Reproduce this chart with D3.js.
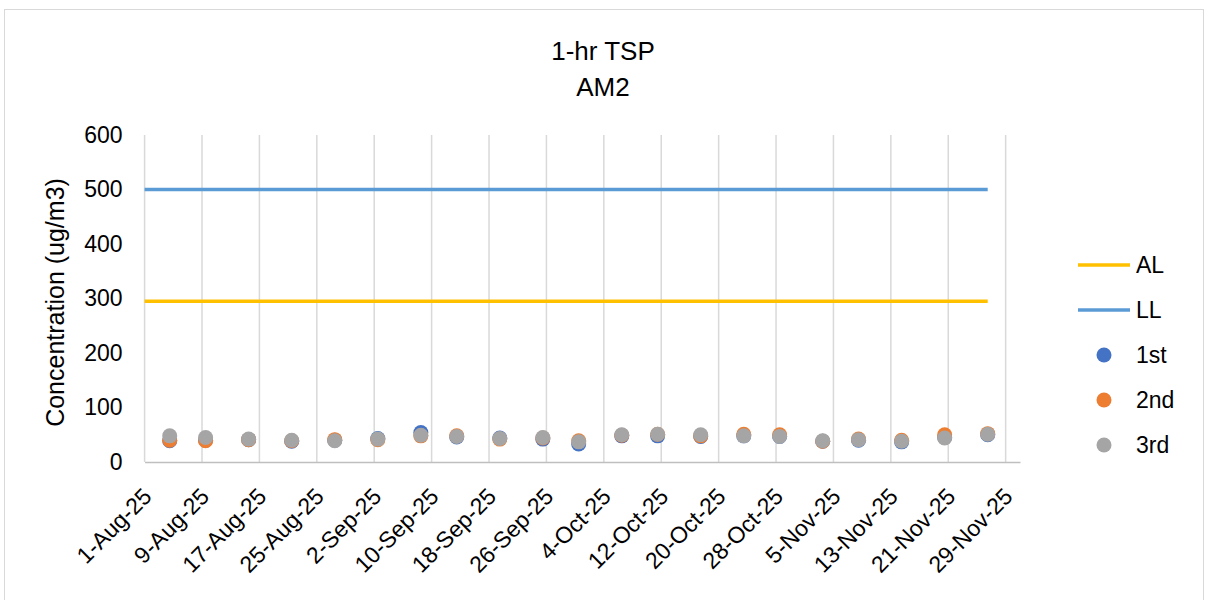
<!DOCTYPE html>
<html>
<head>
<meta charset="utf-8">
<script src="https://cdn.jsdelivr.net/npm/d3@7"></script>
<style>
  body { margin: 0; background: #fff; }
  svg text { font-family: "Liberation Sans", Arial, sans-serif; fill: #000; }
</style>
</head>
<body>
<svg id="chart" width="1208" height="600"></svg>
<script>
// sample dates and the three hourly readings
const sampleDates = ['2025-08-04T12:00', '2025-08-09T12:00', '2025-08-15T12:00', '2025-08-21T12:00',
    '2025-08-27T12:00', '2025-09-02T12:00', '2025-09-08T12:00', '2025-09-13T12:00', '2025-09-19T12:00',
    '2025-09-25T12:00', '2025-09-30T12:00', '2025-10-06T12:00', '2025-10-11T12:00', '2025-10-17T12:00',
    '2025-10-23T12:00', '2025-10-28T12:00', '2025-11-03T12:00', '2025-11-08T12:00', '2025-11-14T12:00',
    '2025-11-20T12:00', '2025-11-26T12:00'];
const first = [39, 40, 41, 38, 40, 43, 54, 46, 44, 42, 33, 48, 48, 47, 48, 47, 38, 40, 37, 45, 50];
const second = [40, 39, 41, 39, 41, 41, 48, 48, 42, 44, 39, 49, 51, 48, 51, 50, 38, 42, 40, 50, 52];
const third = [48, 45, 42, 40, 39, 42, 49, 47, 43, 45, 37, 50, 51, 50, 48, 47, 39, 41, 38, 44, 51];

// limit levels
const actionLevel = 295;
const limitLevel = 500;
const limitDates = ['2025-08-01', '2025-11-26T12:00'];

const xTickStart = '2025-08-01';
const xTickStepDays = 8;
const xTickCount = 16;
const xDomain = ['2025-08-01', '2025-12-01'];
const yTicks = [0, 100, 200, 300, 400, 500, 600];

const titleLines = ['1-hr TSP', 'AM2'];
const yTitle = 'Concentration (ug/m3)';

const seriesInfo = [
    { name: '1st', values: first, color: '#4472C4' },
    { name: '2nd', values: second, color: '#ED7D31' },
    { name: '3rd', values: third, color: '#A5A5A5' }
];
const lineInfo = [
    { name: 'AL', value: actionLevel, color: '#FFC000' },
    { name: 'LL', value: limitLevel, color: '#5B9BD5' }
];

const svg = d3.select('#chart');
const parse = d3.isoParse;
const fmt = d3.timeFormat('%-d-%b-%y');

const plotLeft = 144.6, plotRight = 1020, plotTop = 135, plotBottom = 462;

const x = d3.scaleTime()
    .domain(xDomain.map(parse))
    .range([plotLeft, plotRight]);
const y = d3.scaleLinear()
    .domain([0, 600])
    .range([plotBottom, plotTop]);

// chart border
svg.append('rect')
    .attr('x', 4.5).attr('y', 9.5)
    .attr('width', 1199).attr('height', 600)
    .attr('fill', 'none')
    .attr('stroke', '#D9D9D9')
    .attr('stroke-width', 1);

// title
svg.append('text')
    .attr('x', 603)
    .attr('text-anchor', 'middle')
    .style('font-size', '26px')
    .selectAll('tspan')
    .data(titleLines)
    .join('tspan')
    .attr('x', 603)
    .attr('y', (d, i) => 60 + i * 36)
    .text(d => d);

// x ticks every 8 days
const start = parse(xTickStart);
const xTicks = d3.range(xTickCount).map(i => d3.timeDay.offset(start, i * xTickStepDays));

svg.append('g')
    .selectAll('line')
    .data(xTicks)
    .join('line')
    .attr('x1', d => x(d)).attr('x2', d => x(d))
    .attr('y1', plotTop).attr('y2', plotBottom)
    .attr('stroke', '#D9D9D9')
    .attr('stroke-width', 1.5);

const xAxis = svg.append('g')
    .attr('transform', `translate(0,${plotBottom})`)
    .call(d3.axisBottom(x).tickValues(xTicks).tickFormat(fmt).tickSize(0));
xAxis.select('.domain').attr('stroke', '#BFBFBF').attr('stroke-width', 1.5);
xAxis.selectAll('text')
    .style('font-size', '23px')
    .attr('text-anchor', 'end')
    .attr('dy', 0)
    .attr('y', 0)
    .attr('transform', 'translate(8,36) rotate(-45)');

// y axis labels only
const yAxis = svg.append('g')
    .attr('transform', `translate(${plotLeft},0)`)
    .call(d3.axisLeft(y).tickValues(yTicks).tickSize(0).tickPadding(22));
yAxis.select('.domain').remove();
yAxis.selectAll('text').style('font-size', '23px');

svg.append('text')
    .attr('transform', `translate(64,${(plotTop + plotBottom) / 2 + 4}) rotate(-90)`)
    .attr('text-anchor', 'middle')
    .style('font-size', '25px')
    .text(yTitle);

// limit lines
const line = d3.line().x(d => x(d.date)).y(d => y(d.value));
lineInfo.forEach(l => {
    svg.append('path')
        .datum(limitDates.map(dt => ({ date: parse(dt), value: l.value })))
        .attr('d', line)
        .attr('fill', 'none')
        .attr('stroke', l.color)
        .attr('stroke-width', 3.5);
});

// markers
seriesInfo.forEach(s => {
    svg.append('g')
        .selectAll('circle')
        .data(s.values.map((v, i) => ({ date: parse(sampleDates[i]), value: v })))
        .join('circle')
        .attr('cx', d => x(d.date))
        .attr('cy', d => y(d.value))
        .attr('r', 7.5)
        .attr('fill', s.color);
});

// legend
const legend = svg.append('g');
const legendItems = lineInfo.map(d => ({ ...d, type: 'line' }))
    .concat(seriesInfo.map(d => ({ ...d, type: 'dot' })));
legendItems.forEach((d, i) => {
    const ly = 265 + i * 45;
    if (d.type === 'line') {
        legend.append('line')
            .attr('x1', 1078).attr('x2', 1130)
            .attr('y1', ly).attr('y2', ly)
            .attr('stroke', d.color)
            .attr('stroke-width', 3.5);
    } else {
        legend.append('circle')
            .attr('cx', 1104).attr('cy', ly)
            .attr('r', 7.5)
            .attr('fill', d.color);
    }
    legend.append('text')
        .attr('x', 1136).attr('y', ly)
        .attr('dy', '0.35em')
        .style('font-size', '23px')
        .text(d.name);
});
</script>
</body>
</html>
